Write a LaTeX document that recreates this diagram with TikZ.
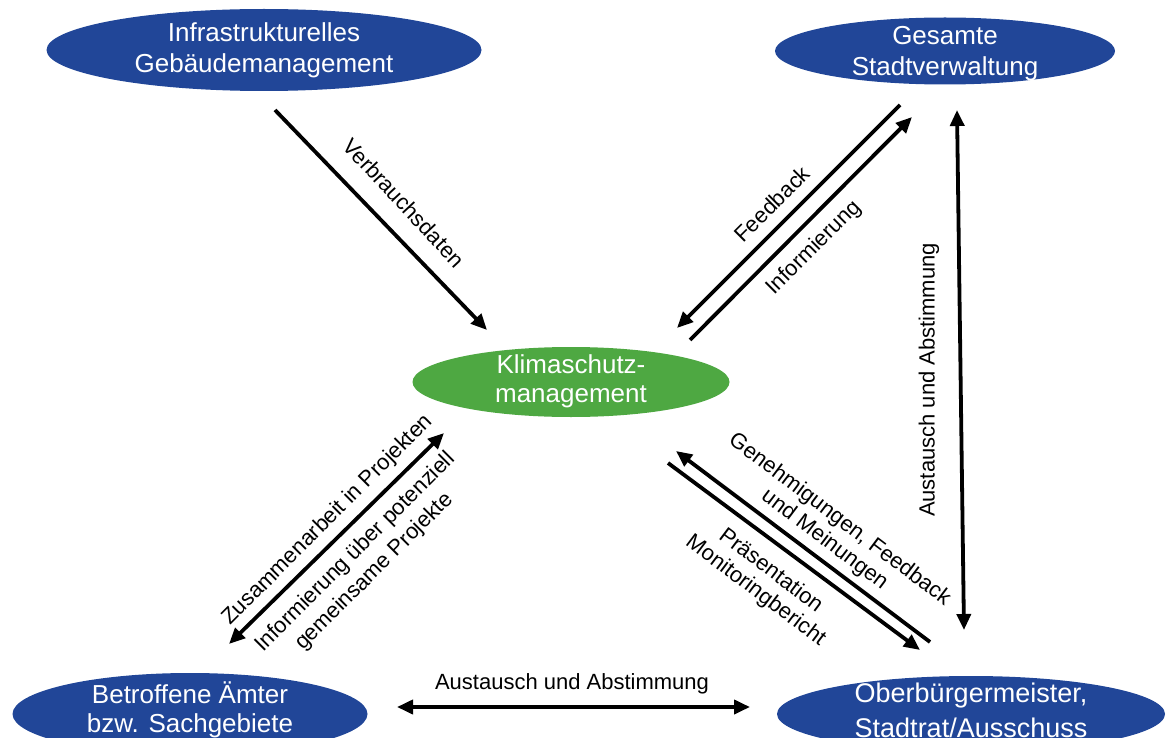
\documentclass[tikz,border=0pt]{standalone}
\usepackage{fontspec}
\setmainfont{Liberation Sans}
\usetikzlibrary{shapes.geometric,arrows.meta}
\definecolor{unitblue}{RGB}{33,70,152}
\definecolor{coregreen}{RGB}{78,168,66}
\tikzset{
  unit/.style={ellipse, fill=unitblue, draw=none, inner sep=0pt},
  core/.style={ellipse, fill=coregreen, draw=none, inner sep=0pt},
  unittext/.style={text=white, align=center, font=\fontsize{26}{31}\selectfont, inner sep=0pt},
  flowlabel/.style={text=black, align=center, font=\fontsize{22}{26}\selectfont, inner sep=0pt},
  tip/.style={Triangle[length=16pt,width=14pt]},
  flow/.style={line width=3.8pt, -{Triangle[length=16pt,width=14pt]}},
  twoway/.style={line width=3.8pt, {Triangle[length=16pt,width=14pt]}-{Triangle[length=16pt,width=14pt]}},
}
\begin{document}
\begin{tikzpicture}[x=1pt,y=-1pt]
\useasboundingbox (0,0) rectangle (1167,738);
\clip (0,0) rectangle (1167,738);

% organisational units
\node[unit, minimum width=435pt, minimum height=82pt] (infra) at (264,50) {};
\node[unittext] at (infra) {Infrastrukturelles\\Gebäudemanagement};
\node[unit, minimum width=340pt, minimum height=67pt] (verw) at (945,51) {};
\node[unittext] at ([yshift=-3pt]verw.center) {Gesamte\\Stadtverwaltung};
\node[core, minimum width=317pt, minimum height=70pt] (klima) at (571,382) {};
\node[unittext, font=\fontsize{26}{29}\selectfont] at ([yshift=1pt]klima.center) {Klimaschutz-\\management};
\node[unit, minimum width=355pt, minimum height=82pt] (aemter) at (190,714) {};
\node[unittext, font=\fontsize{26}{29}\selectfont] at ([yshift=4pt]aemter.center) {Betroffene Ämter\\bzw. Sachgebiete};
\node[unit, minimum width=388pt, minimum height=76pt] (ob) at (971,714) {};
\node[unittext, font=\fontsize{27}{35}\selectfont] at ([yshift=3.5pt]ob.center) {Oberbürgermeister,\\Stadtrat/Ausschuss};

% connector end points
\coordinate (vd-a) at (275,110);   \coordinate (vd-b) at (487,330);
\coordinate (fb-a) at (900,105);   \coordinate (fb-b) at (677,328);
\coordinate (in-a) at (690,340);   \coordinate (in-b) at (912,117);
\coordinate (vt-a) at (957,110);   \coordinate (vt-b) at (964,630);
\coordinate (ge-a) at (930,642);   \coordinate (ge-b) at (676,451);
\coordinate (pr-a) at (668,463);   \coordinate (pr-b) at (920,650);
\coordinate (zu-a) at (444,433);   \coordinate (zu-b) at (229,644);
\coordinate (hz-a) at (397,707);   \coordinate (hz-b) at (750,707);

% connectors
\draw[flow] (vd-a) -- (vd-b);
\draw[flow] (fb-a) -- (fb-b);
\draw[flow] (in-a) -- (in-b);
\draw[twoway] (vt-a) -- (vt-b);
\draw[flow] (ge-a) -- (ge-b);
\draw[flow] (pr-a) -- (pr-b);
\draw[twoway] (zu-a) -- (zu-b);
\draw[twoway] (hz-a) -- (hz-b);

% connector labels
\node[flowlabel, rotate=-47] at (404,203) {Verbrauchsdaten};
\node[flowlabel, rotate=45] at (772,204) {Feedback};
\node[flowlabel, rotate=45] at (814,248) {Informierung};
\node[flowlabel, rotate=90] at (929,380) {Austausch und Abstimmung};
\node[flowlabel, rotate=-37, font=\fontsize{22}{25}\selectfont] at (832,530) {Genehmigungen, Feedback\\und Meinungen};
\node[flowlabel, rotate=-37, font=\fontsize{22}{25}\selectfont] at (763,581) {Präsentation\\Monitoringbericht};
\node[flowlabel, rotate=45] at (328,520) {Zusammenarbeit in Projekten};
\node[flowlabel, rotate=45, font=\fontsize{22}{27}\selectfont] at (365,562) {Informierung über potenziell\\gemeinsame Projekte};
\node[flowlabel] at (572,684) {Austausch und Abstimmung};
\end{tikzpicture}
\end{document}
